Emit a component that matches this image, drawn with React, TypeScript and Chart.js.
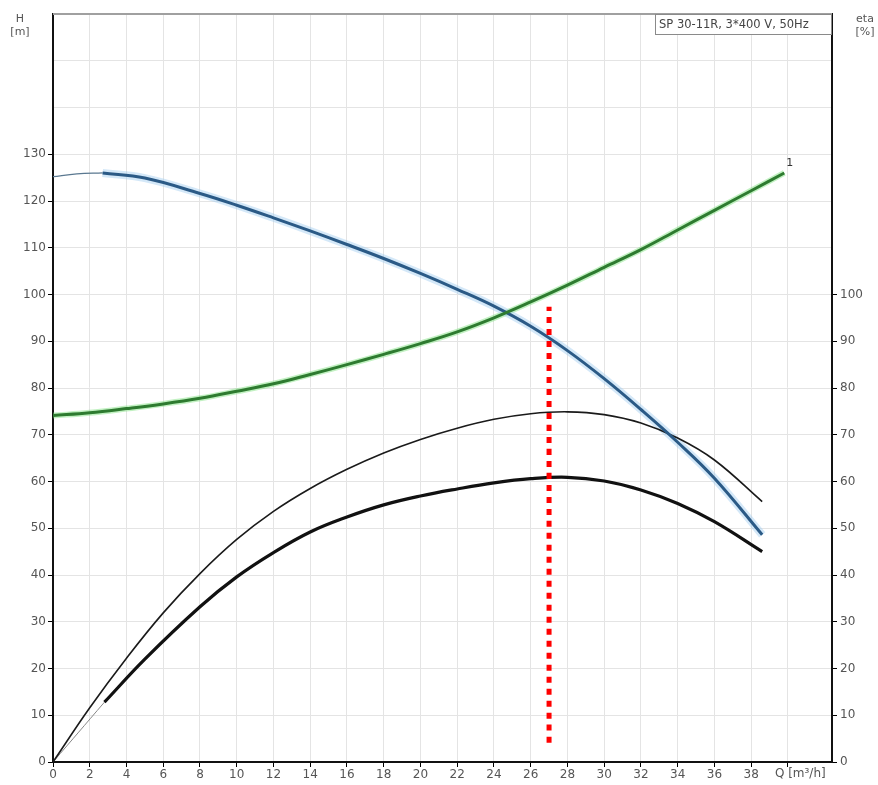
import React, { useEffect, useRef } from 'react';
import { Chart, registerables } from 'chart.js';

Chart.register(...registerables);

// ---- Data ----
const TITLE = 'SP 30-11R, 3*400 V, 50Hz';

// Head curve H [m] (thin lead-in + thick operating range)
const qHeadThin = [0, 1.3, 2.7];
const headThin = [125.2, 125.8, 126];
const qHead = [2.7, 5, 8, 10, 12, 14, 16, 18, 20, 22, 24, 26, 28, 30, 32, 34, 36, 38.6];
const head = [126, 124.9, 121.6, 119.1, 116.4, 113.6, 110.7, 107.7, 104.5, 101.1, 97.5, 93.2, 88.0, 82.0, 75.4, 68.4, 60.7, 48.6];

// Green curve (1)
const qGreen = [0, 2, 4, 6, 8, 10, 12, 14, 16, 18, 20, 22, 24, 26, 28, 30, 32, 34, 36, 38, 39.8];
const green = [74.1, 74.7, 75.6, 76.6, 77.8, 79.3, 80.9, 82.9, 85, 87.2, 89.5, 92, 95, 98.4, 102, 105.8, 109.6, 113.8, 118, 122.2, 126];

// Thin black efficiency curve
const qEtaThin = [0, 2, 4, 6, 8, 10, 12, 14, 16, 18, 20, 22, 24, 26, 28, 30, 32, 34, 36, 38.6];
const etaThin = [0, 11.6, 22.2, 31.9, 40.3, 47.6, 53.6, 58.5, 62.6, 66.1, 69.0, 71.4, 73.3, 74.5, 74.9, 74.3, 72.5, 69.3, 64.6, 55.7];

// Thick black efficiency curve (thin lead-in + thick part)
const qEtaLead = [0, 2.8];
const etaLead = [0, 12.8];
const qEta = [2.8, 5, 8, 10, 12, 14, 16, 18, 20, 22, 24, 26, 28, 30, 32, 34, 36, 38.6];
const eta = [12.8, 22.0, 33.2, 39.6, 44.8, 49.2, 52.4, 55.0, 56.9, 58.4, 59.7, 60.6, 60.9, 60.1, 58.2, 55.3, 51.4, 45.0];

// Red dotted duty line
const qDuty = [27, 27];
const dutyRange = [4.1, 97.4];

// Axis settings
const X_MIN = 0;
const X_MAX = 42.4;
const X_STEP = 2;
const X_LAST_TICK = 40;
const X_LAST_NUM = 38;
const Y_MIN = 0;
const Y_MAX = 160;
const Y_STEP = 10;
const LEFT_MAX_LABEL = 130;
const RIGHT_MAX_LABEL = 100;

const pts = (xs: number[], ys: number[]) => xs.map((x, i) => ({ x, y: ys[i] }));

const FONT = '"DejaVu Sans", Verdana, sans-serif';

export default function App() {
  const ref = useRef<HTMLCanvasElement | null>(null);

  useEffect(() => {
    document.body.style.margin = '0';
    const canvas = ref.current;
    if (!canvas) return;

    const annot = {
      id: 'annot',
      afterDraw(chart: any) {
        const { ctx, chartArea, scales } = chart;
        ctx.save();
        // top border
        ctx.strokeStyle = '#a0a0a0';
        ctx.lineWidth = 2;
        ctx.beginPath();
        ctx.moveTo(chartArea.left, chartArea.top);
        ctx.lineTo(chartArea.right, chartArea.top);
        ctx.stroke();

        // title box
        const bw = 177, bh = 20;
        const bx = chartArea.right - bw, by = chartArea.top;
        ctx.fillStyle = '#ffffff';
        ctx.fillRect(bx, by, bw, bh);
        ctx.strokeStyle = '#8a8a8a';
        ctx.lineWidth = 1;
        ctx.strokeRect(bx + 0.5, by + 0.5, bw - 1, bh);
        ctx.fillStyle = '#444';
        ctx.font = `11.5px ${FONT}`;
        ctx.textBaseline = 'middle';
        ctx.textAlign = 'left';
        ctx.fillText(TITLE, bx + 4, by + bh / 2 + 1);

        // axis titles
        ctx.fillStyle = '#555';
        ctx.font = `11px ${FONT}`;
        ctx.textAlign = 'center';
        ctx.fillText('H', 20, 19);
        ctx.fillText('[m]', 20, 32);
        ctx.fillText('eta', 865, 19);
        ctx.fillText('[%]', 865, 32);

        // Q label
        ctx.font = `12px ${FONT}`;
        ctx.textAlign = 'left';
        ctx.fillStyle = '#555';
        const xq = scales.x.getPixelForValue(X_LAST_TICK);
        ctx.fillText('Q [m³/h]', xq - 13, chartArea.bottom + 12);

        // curve label "1"
        const meta = chart.getDatasetMeta(2);
        const last = meta.data[meta.data.length - 1];
        if (last) {
          ctx.fillStyle = '#333';
          ctx.font = `11px ${FONT}`;
          ctx.fillText('1', last.x + 2, last.y - 10);
        }
        ctx.restore();
      },
    };

    const base = { pointRadius: 0, tension: 0.4, fill: false };
    const tickFont = { family: FONT, size: 12 };

    const chart = new Chart(canvas, {
      type: 'line',
      data: {
        datasets: [
          { ...base, data: pts(qHead, head), borderColor: 'rgba(160,205,240,0.45)', borderWidth: 8, order: 10 },
          { ...base, data: pts(qGreen, green), borderColor: 'rgba(120,225,120,0.45)', borderWidth: 6, order: 10 },
          { ...base, data: pts(qGreen, green), borderColor: '#2e7b30', borderWidth: 3, order: 2 },
          { ...base, data: pts(qHeadThin, headThin), borderColor: '#5a7890', borderWidth: 1.2, order: 3 },
          { ...base, data: pts(qHead, head), borderColor: '#2b5a86', borderWidth: 3, order: 2 },
          { ...base, data: pts(qEtaThin, etaThin), borderColor: '#1a1a1a', borderWidth: 1.6, order: 3 },
          { ...base, data: pts(qEtaLead, etaLead), borderColor: '#888', borderWidth: 1, order: 3 },
          { ...base, data: pts(qEta, eta), borderColor: '#111', borderWidth: 3.2, order: 2 },
          {
            ...base,
            data: pts(qDuty, dutyRange),
            borderColor: '#ff0000',
            borderWidth: 5,
            borderDash: [6, 6],
            borderCapStyle: 'butt',
            order: 0,
          },
        ],
      },
      options: {
        responsive: false,
        animation: false,
        layout: { padding: { top: 14, left: 0, right: 0, bottom: 0 } },
        plugins: { legend: { display: false }, tooltip: { enabled: false }, title: { display: false } },
        scales: {
          x: {
            type: 'linear',
            min: X_MIN,
            max: X_MAX,
            afterBuildTicks: (scale: any) => {
              scale.ticks = scale.ticks.filter((t: any) => t.value <= X_LAST_TICK);
            },
            afterFit: (scale: any) => {
              scale.height = 23;
            },
            ticks: {
              stepSize: X_STEP,
              includeBounds: false,
              autoSkip: false,
              maxRotation: 0,
              padding: 1,
              color: '#555',
              font: tickFont,
              callback: (v: any) => (v <= X_LAST_NUM ? String(v) : ''),
            },
            grid: { color: '#e4e4e4', tickColor: '#000', tickLength: 5, lineWidth: 1 },
            border: { display: true, color: '#111', width: 2 },
          },
          y: {
            type: 'linear',
            position: 'left',
            min: Y_MIN,
            max: Y_MAX,
            afterFit: (scale: any) => {
              scale.width = 53;
            },
            ticks: {
              stepSize: Y_STEP,
              padding: 2,
              color: '#555',
              font: tickFont,
              callback: (v: any) => (v <= LEFT_MAX_LABEL ? String(v) : ''),
            },
            grid: {
              color: '#e4e4e4',
              tickLength: 5,
              tickColor: (ctx: any) => (ctx.tick && ctx.tick.value <= LEFT_MAX_LABEL ? '#000' : 'rgba(0,0,0,0)'),
            },
            border: { display: true, color: '#111', width: 2 },
          },
          y2: {
            type: 'linear',
            position: 'right',
            min: Y_MIN,
            max: Y_MAX,
            afterFit: (scale: any) => {
              scale.width = 46;
            },
            ticks: {
              stepSize: Y_STEP,
              padding: 3,
              color: '#555',
              font: tickFont,
              callback: (v: any) => (v <= RIGHT_MAX_LABEL ? String(v) : ''),
            },
            grid: {
              drawOnChartArea: false,
              tickLength: 5,
              tickColor: (ctx: any) => (ctx.tick && ctx.tick.value <= RIGHT_MAX_LABEL ? '#000' : 'rgba(0,0,0,0)'),
            },
            border: { display: true, color: '#111', width: 2 },
          },
        },
      },
      plugins: [annot],
    } as any);

    return () => chart.destroy();
  }, []);

  return (
    <div style={{ width: 878, height: 785, background: '#fff' }}>
      <canvas ref={ref} width={878} height={785} style={{ display: 'block', width: 878, height: 785 }} />
    </div>
  );
}
